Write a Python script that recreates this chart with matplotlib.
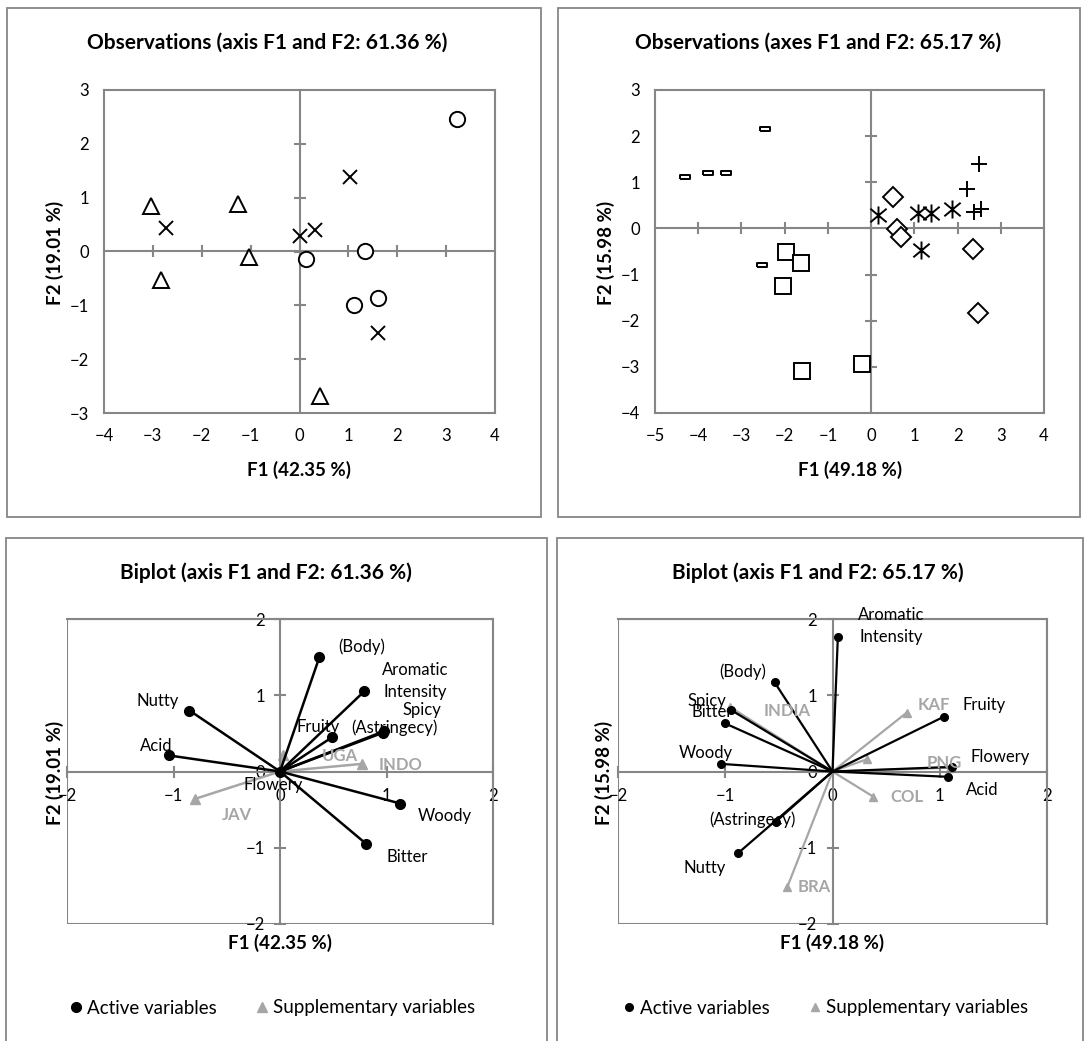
import matplotlib
matplotlib.use("Agg")
import matplotlib.pyplot as plt
from matplotlib.patches import Rectangle
from matplotlib.path import Path

plt.rcParams['font.family'] = ['Lato', 'DejaVu Sans']

# ---- data: observations, panel 1 (F1 42.35 %, F2 19.01 %)
obs1_circle_x = [3.23, 0.13, 1.34, 1.12, 1.60]
obs1_circle_y = [2.46, -0.14, 0.01, -1.00, -0.86]
obs1_cross_x = [1.03, -2.74, 0.01, 0.32, 1.60]
obs1_cross_y = [1.38, 0.44, 0.29, 0.40, -1.51]
obs1_tri_x = [-3.04, -1.26, -1.04, -2.83, 0.42]
obs1_tri_y = [0.84, 0.89, -0.10, -0.53, -2.68]

# ---- data: observations, panel 2 (F1 49.18 %, F2 15.98 %)
obs2_dash_x = [-4.31, -3.77, -3.36, -2.45, -2.53]
obs2_dash_y = [1.12, 1.21, 1.21, 2.15, -0.79]
obs2_square_x = [-1.96, -1.63, -2.03, -1.61, -0.22]
obs2_square_y = [-0.51, -0.76, -1.24, -3.10, -2.94]
obs2_diamond_x = [0.51, 0.61, 0.68, 2.35, 2.47]
obs2_diamond_y = [0.69, -0.01, -0.19, -0.44, -1.84]
obs2_star_x = [0.17, 1.09, 1.39, 1.87, 1.16]
obs2_star_y = [0.30, 0.33, 0.33, 0.42, -0.46]
obs2_plus_x = [2.49, 2.21, 2.37, 2.55]
obs2_plus_y = [1.40, 0.85, 0.36, 0.42]

# ---- data: biplot 1
act1_names = ['(Body)', 'Aromatic\nIntensity', 'Spicy', '(Astringecy)', 'Fruity',
              'Nutty', 'Acid', 'Flowery', 'Woody', 'Bitter']
act1_x = [0.37, 0.79, 0.98, 0.97, 0.49, -0.85, -1.04, 0.00, 1.13, 0.81]
act1_y = [1.50, 1.05, 0.53, 0.51, 0.45, 0.80, 0.21, 0.00, -0.42, -0.95]
sup1_names = ['UGA', 'INDO', 'JAV']
sup1_x = [0.03, 0.77, -0.80]
sup1_y = [0.22, 0.10, -0.36]

# ---- data: biplot 2
act2_names = ['Aromatic\nIntensity', '(Body)', 'Spicy', 'Bitter', 'Woody',
              '(Astringecy)', 'Nutty', 'Fruity', 'Flowery', 'Acid']
act2_x = [0.05, -0.54, -0.95, -1.00, -1.04, -0.53, -0.88, 1.04, 1.11, 1.08]
act2_y = [1.77, 1.17, 0.81, 0.63, 0.10, -0.66, -1.07, 0.72, 0.06, -0.07]
sup2_names = ['INDIA', 'KAF', 'PNG', '', 'COL', 'BRA']
sup2_x = [-0.96, 0.69, 1.10, 0.32, 0.38, -0.42]
sup2_y = [0.85, 0.77, 0.05, 0.16, -0.33, -1.51]

# label positions (data units)
lab1_pos = [(0.77, 1.64), (1.27, 1.19), (1.33, 0.80), (1.07, 0.58), (0.36, 0.58),
            (-1.15, 0.93), (-1.16, 0.34), (-0.06, -0.18), (1.55, -0.58), (1.19, -1.12)]
sup1_pos = [(0.56, 0.20), (1.13, 0.08), (-0.40, -0.57)]
lab2_pos = [(0.55, 1.91), (-0.84, 1.31), (-1.17, 0.92), (-1.12, 0.78), (-1.18, 0.24),
            (-0.75, -0.63), (-1.19, -1.26), (1.41, 0.87), (1.56, 0.19), (1.40, -0.24)]
sup2_pos = [(-0.42, 0.80), (0.94, 0.87), (1.04, 0.11), (0, 0), (0.69, -0.34), (-0.17, -1.52)]

GRID = '#868686'
SUP = '#A6A6A6'
W, H = 1086, 1041
TITLE = 15
AXLAB = 13.5
TICK = 12
LAB = 12

fig = plt.figure(figsize=(W / 100, H / 100), dpi=100)


def px_axes(l, t, r, b):
    return fig.add_axes([l / W, 1 - b / H, (r - l) / W, (b - t) / H])


def frame(l, t, r, b):
    fig.patches.append(Rectangle((l / W, 1 - b / H), (r - l) / W, (b - t) / H,
                                 transform=fig.transFigure, fill=False,
                                 edgecolor=GRID, lw=1.3))


def ftext(x, y, s, **kw):
    fig.text(x / W, 1 - y / H, s, ha='center', va='center', **kw)


frame(7, 8, 541, 517)
frame(558, 8, 1080, 517)
frame(6, 538, 547, 1060)
frame(557, 538, 1083, 1060)


def obs_axes(ax, xlim, ylim):
    ax.set_xlim(*xlim)
    ax.set_ylim(*ylim)
    for s in ax.spines.values():
        s.set_color(GRID)
        s.set_linewidth(1.5)
    ax.set_xticks(range(xlim[0], xlim[1] + 1))
    ax.set_yticks(range(ylim[0], ylim[1] + 1))
    ax.tick_params(length=0, labelsize=TICK, colors='black')
    ax.tick_params(axis='x', pad=11)
    ax.tick_params(axis='y', pad=11)
    # zero axes with tick marks
    sx = ax.secondary_xaxis((0 - ylim[0]) / (ylim[1] - ylim[0]))
    sx.set_xticks(range(xlim[0] + 1, xlim[1]))
    sx.tick_params(direction='inout', length=9, width=1.5, color=GRID,
                   labelbottom=False, labeltop=False)
    for s in sx.spines.values():
        s.set_color(GRID)
        s.set_linewidth(1.5)
    sy = ax.secondary_yaxis((0 - xlim[0]) / (xlim[1] - xlim[0]))
    sy.set_yticks(range(ylim[0] + 1, ylim[1]))
    sy.tick_params(direction='inout', length=9, width=1.5, color=GRID,
                   labelleft=False, labelright=False)
    for s in sy.spines.values():
        s.set_color(GRID)
        s.set_linewidth(1.5)


# ---- panel 1
ax1 = px_axes(104, 90, 495, 413)
obs_axes(ax1, (-4, 4), (-3, 3))
mk = dict(linestyle='none', mfc='white', mec='black', mew=1.4, zorder=3)
ax1.plot(obs1_circle_x, obs1_circle_y, marker='o', ms=11, **mk)
ax1.plot(obs1_cross_x, obs1_cross_y, marker='x', ms=10, **mk)
ax1.plot(obs1_tri_x, obs1_tri_y, marker='^', ms=11, **mk)
ftext(267, 43, 'Observations (axis F1 and F2: 61.36 %)', fontsize=TITLE, fontweight='bold')
ftext(299, 470, 'F1 (42.35 %)', fontsize=AXLAB, fontweight='bold')
ftext(55, 253, 'F2 (19.01 %)', fontsize=AXLAB, fontweight='bold', rotation=90)

# ---- panel 2
ax2 = px_axes(655, 90, 1044, 413)
obs_axes(ax2, (-5, 4), (-4, 3))
dash = [(-1, -0.45), (1, -0.45), (1, 0.45), (-1, 0.45), (-1, -0.45)]
star = Path([(0, -1), (0, 1), (-0.9, -0.75), (0.9, 0.75), (-0.9, 0.75), (0.9, -0.75)],
            [Path.MOVETO, Path.LINETO, Path.MOVETO, Path.LINETO, Path.MOVETO, Path.LINETO])
ax2.plot(obs2_dash_x, obs2_dash_y, marker=dash, ms=7, **mk)
ax2.plot(obs2_square_x, obs2_square_y, marker='s', ms=11.5, **mk)
ax2.plot(obs2_diamond_x, obs2_diamond_y, marker='D', ms=10, **mk)
ax2.plot(obs2_star_x, obs2_star_y, marker=star, ms=13, **mk)
ax2.plot(obs2_plus_x, obs2_plus_y, marker='+', ms=11, **mk)
ftext(818, 43, 'Observations (axes F1 and F2: 65.17 %)', fontsize=TITLE, fontweight='bold')
ftext(850, 470, 'F1 (49.18 %)', fontsize=AXLAB, fontweight='bold')
ftext(606, 253, 'F2 (15.98 %)', fontsize=AXLAB, fontweight='bold', rotation=90)


def bi_axes(ax):
    ax.set_xlim(-2, 2)
    ax.set_ylim(-2, 2)
    ax.spines['left'].set_position(('data', 0))
    ax.spines['bottom'].set_position(('data', 0))
    for s in ax.spines.values():
        s.set_color(GRID)
        s.set_linewidth(1.5)
    ax.add_patch(Rectangle((0, 0), 1, 1, transform=ax.transAxes, fill=False,
                           edgecolor=GRID, lw=1.5, zorder=0))
    ax.set_xticks([-2, -1, 0, 1, 2])
    ax.set_yticks([-2, -1, 0, 1, 2])
    ax.tick_params(direction='inout', length=8, width=1.5, color=GRID,
                   labelsize=TICK, labelcolor='black')
    ax.tick_params(axis='x', pad=8)
    ax.tick_params(axis='y', pad=7)


def biplot(ax, ax_, ay_, anames, apos, sx_, sy_, snames, spos, ms, lw):
    for x, y in zip(sx_, sy_):
        ax.plot([0, x], [0, y], color=SUP, lw=lw, zorder=2)
    ax.plot(sx_, sy_, linestyle='none', marker='^', ms=ms, color=SUP, zorder=2)
    for x, y in zip(ax_, ay_):
        ax.plot([0, x], [0, y], color='black', lw=lw, zorder=3)
    ax.plot(ax_, ay_, linestyle='none', marker='o', ms=ms, color='black', zorder=3)
    for n, (x, y) in zip(anames, apos):
        ax.text(x, y, n, ha='center', va='center', fontsize=LAB, linespacing=1.5, zorder=4)
    for n, (x, y) in zip(snames, spos):
        ax.text(x, y, n, ha='center', va='center', fontsize=LAB, fontweight='bold',
                color=SUP, zorder=4)


# ---- panel 3
ax3 = px_axes(67, 619, 493, 924)
bi_axes(ax3)
biplot(ax3, act1_x, act1_y, act1_names, lab1_pos, sup1_x, sup1_y, sup1_names, sup1_pos, 7, 1.8)
ftext(266, 573, 'Biplot (axis F1 and F2: 61.36 %)', fontsize=TITLE, fontweight='bold')
ftext(280, 943, 'F1 (42.35 %)', fontsize=AXLAB, fontweight='bold')
ftext(55, 773, 'F2 (19.01 %)', fontsize=AXLAB, fontweight='bold', rotation=90)

# ---- panel 4
ax4 = px_axes(618, 619, 1047, 924)
bi_axes(ax4)
biplot(ax4, act2_x, act2_y, act2_names, lab2_pos, sup2_x, sup2_y, sup2_names, sup2_pos, 5.5, 1.6)
ftext(818, 573, 'Biplot (axis F1 and F2: 65.17 %)', fontsize=TITLE, fontweight='bold')
ftext(832, 943, 'F1 (49.18 %)', fontsize=AXLAB, fontweight='bold')
ftext(604, 773, 'F2 (15.98 %)', fontsize=AXLAB, fontweight='bold', rotation=90)

# ---- legends
for cx, ms in [(272, 7), (825, 5.5)]:
    h1, = fig.axes[0].plot([], [], linestyle='none', marker='o', ms=ms, color='black')
    h2, = fig.axes[0].plot([], [], linestyle='none', marker='^', ms=ms, color=SUP)
    fig.legend([h1, h2], ['Active variables', 'Supplementary variables'], ncol=2,
               loc='center', bbox_to_anchor=(cx / W, 1 - 1008 / H), frameon=False,
               fontsize=13.5, handletextpad=0.2, columnspacing=2.0, handlelength=0.8)

fig.savefig('out.png', dpi=100)
